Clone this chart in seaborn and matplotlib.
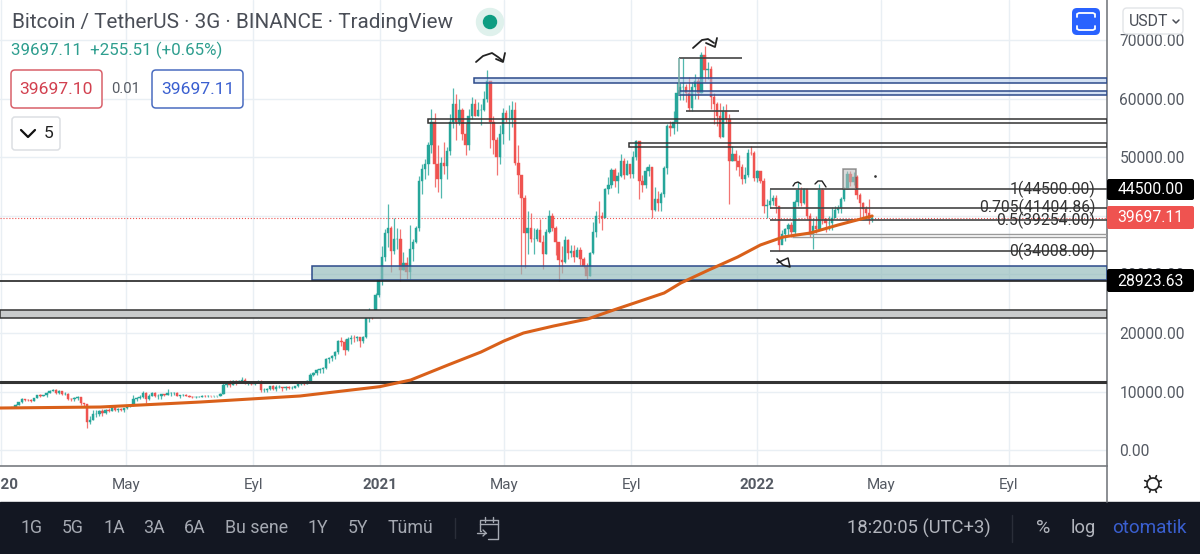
import numpy as np
import pandas as pd
import matplotlib
matplotlib.use("Agg")
import matplotlib.pyplot as plt
import matplotlib.dates as mdates
from matplotlib.patches import Rectangle, FancyBboxPatch, Circle
import seaborn as sns

# 3 day candles
closes_2020 = [
    7340, 7760, 8150, 8720, 8650, 8620, 8400, 8900, 9380, 9320,
    9340, 9800, 10150, 10260, 9700, 10180, 9600, 9660, 8790, 8710,
    8900, 9060, 8040, 7880, 4800, 5200, 6190, 6190, 6640, 6410,
    6800, 6770, 7300, 6870, 7100, 6850, 7130, 7500, 7700, 8800,
    8900, 9000, 9800, 8750, 9300, 9700, 9170, 9180, 9570, 9430,
    9700, 9700, 9700, 9300, 9400, 9400, 9300, 9150, 9000, 9100,
    9130, 9280, 9230, 9240, 9170, 9200, 9240, 9550, 11050, 11300,
    11200, 11800, 11600, 11800, 12000, 11500, 11700, 11300, 11600, 11700,
    10200, 10300, 10400, 10900, 10400, 10700, 10800, 10600, 10800, 10600,
    10680, 10900, 11300, 11500, 11350, 11800, 12900, 13100, 13700, 13800,
    14100, 15500, 15700, 16000, 16700, 18600, 18400, 17100, 19000, 19200,
    19100, 19300, 18700, 19300, 22800, 23500, 23200, 26500, 29000,
]
highs_2020 = [
    7450, 7800, 8200, 8880, 8750, 8780, 8700, 8960, 9450, 9550,
    9500, 9900, 10200, 10500, 10390, 10290, 10180, 9900, 9700, 8990,
    9000, 9200, 9150, 8100, 7950, 5900, 6900, 6900, 6780, 6950,
    6950, 7150, 7450, 7400, 7250, 7200, 7250, 7780, 7800, 9450,
    9080, 9400, 10050, 9900, 9570, 9950, 9850, 9570, 9600, 9650,
    10400, 9850, 9990, 9980, 9500, 9550, 9600, 9500, 9200, 9200,
    9280, 9340, 9450, 9350, 9300, 9240, 9290, 9800, 11400, 11450,
    11900, 11900, 11900, 11930, 12480, 12250, 11800, 11650, 11700, 12050,
    12000, 10650, 10580, 10950, 11150, 11100, 11180, 10750, 10950, 10900,
    10900, 11000, 11450, 11700, 11750, 11900, 13200, 13350, 13900, 14100,
    14200, 15800, 15950, 16200, 16900, 18800, 19400, 18900, 19300, 19700,
    19700, 19500, 19300, 19500, 23700, 24300, 24000, 26800, 29300,
]
lows_2020 = [
    7150, 7300, 7670, 8130, 8480, 8400, 8300, 8350, 8850, 9150,
    9200, 9100, 9750, 10050, 9620, 9600, 9500, 9430, 8650, 8450,
    8400, 8650, 7630, 7600, 3800, 4450, 5100, 5700, 5850, 5900,
    6150, 6580, 6700, 6750, 6500, 6750, 6600, 7100, 7400, 7600,
    8400, 8800, 8880, 8100, 8650, 9200, 9000, 8700, 8800, 9300,
    9350, 9300, 9500, 9250, 8950, 9230, 9250, 9000, 8830, 8900,
    9000, 9040, 9100, 9100, 9100, 9100, 9130, 9260, 9600, 10800,
    10800, 11100, 11100, 11500, 11650, 11380, 11150, 11100, 11150, 11450,
    10000, 9900, 10000, 10300, 10300, 10150, 10650, 10150, 10250, 10450,
    10400, 10550, 10800, 11200, 11200, 11250, 11800, 12700, 12900, 13100,
    13250, 13800, 14800, 15200, 15600, 16500, 17700, 16300, 16900, 18100,
    18500, 18600, 17650, 18300, 19200, 21900, 22400, 23000, 26100,
]
closes_2021 = [
    33000, 37000, 38000, 34000, 36000, 36000, 30800, 32000, 30400, 34300,
    35500, 38000, 46000, 48000, 48800, 52000, 56000, 48800, 46300, 49000,
    48500, 51000, 56000, 59000, 56000, 58000, 54000, 52000, 57000, 59000,
    57000, 58000, 58000, 60000, 63000, 56000, 53000, 50000, 54000, 57500,
    56500, 56500, 58000, 49000, 47000, 43000, 37000, 38000, 36000, 36000,
    37500, 35500, 33500, 37300, 40000, 38000, 35500, 32500, 32200, 35800,
    33700, 34000, 32900, 34200, 32700, 31400, 29800, 33600, 37300, 40000,
    39900, 39700, 44600, 45200, 47800, 45900, 46800, 49300, 47000, 48800,
    47100, 50000, 52700, 46000, 45200, 47700, 48300, 41000, 42800, 42200,
    43800, 48200, 55300, 54900, 56000, 61000, 62000, 62000, 60900, 58400,
    62000, 63000, 61000, 67500, 64800, 65000, 60300, 59000, 57000, 53500,
    57800, 56500, 49400, 50600, 49300, 48400, 46200, 46900, 50800, 50700,
]
highs_2021 = [
    34800, 37800, 41950, 38300, 39700, 38000, 37800, 33800, 33000, 38500,
    36000, 38300, 46800, 48900, 49700, 52600, 58300, 57500, 52000, 50000,
    52600, 51800, 57400, 61800, 60700, 60000, 58400, 55800, 58300, 60200,
    60000, 59500, 59000, 61300, 64850, 63000, 57000, 53500, 55500, 58400,
    58000, 58900, 59600, 59500, 52000, 46700, 43500, 40900, 40500, 38000,
    37900, 39500, 36800, 37700, 41000, 40500, 38200, 35600, 34800, 36600,
    36000, 35100, 35000, 34600, 34600, 33000, 32000, 33800, 39000, 40900,
    42600, 40700, 44800, 46700, 48100, 48100, 47400, 50500, 49800, 49600,
    48900, 51000, 52900, 52800, 47000, 48400, 48800, 48300, 45000, 44300,
    44100, 48500, 55700, 56100, 57800, 62900, 62600, 67000, 62500, 63700,
    62900, 64200, 63500, 68000, 69000, 66300, 65500, 61000, 59500, 59300,
    58800, 59100, 57300, 51900, 51300, 50300, 48900, 48400, 51400, 51900,
]
lows_2021 = [
    28200, 32300, 34700, 30400, 33400, 34300, 28900, 30800, 29250, 29300,
    32300, 35300, 37350, 43700, 46300, 47000, 50700, 45000, 44100, 43000,
    47050, 46300, 50300, 55000, 53000, 55500, 53000, 50400, 51300, 56600,
    57000, 57000, 55500, 57800, 59500, 51500, 50500, 47000, 48800, 52300,
    56000, 53000, 55200, 48600, 43800, 30000, 31100, 33500, 35600, 33400,
    35700, 35600, 31000, 33400, 37000, 37400, 33300, 28800, 30200, 32000,
    32700, 32900, 32100, 33000, 31600, 31100, 29300, 29700, 33500, 36400,
    38700, 37500, 39800, 43800, 44700, 45000, 43900, 46700, 46300, 46900,
    46500, 46500, 49500, 42800, 44100, 44800, 46800, 39600, 40800, 40800,
    40750, 43200, 47100, 53700, 53900, 54500, 59800, 59800, 59500, 57800,
    57800, 60000, 60000, 60900, 62800, 63400, 58300, 55700, 55400, 53300,
    53400, 55900, 42000, 49300, 47800, 46800, 45500, 45600, 46600, 50400,
]
closes_2022 = [
    46400, 47700, 46000, 41700, 41800, 42600, 43000, 41600, 35000, 36900,
    37700, 38500, 37300, 42400, 44400, 42200, 44500, 40000, 37000, 38300,
    37700, 44400, 39400, 38700, 38800, 39700, 41000, 41300, 42900, 44500,
    47100, 45800, 46600, 43500, 42200, 41100, 40400, 39441, 39697,
]
highs_2022 = [
    51000, 47900, 47500, 46400, 42800, 44500, 43500, 43500, 41100, 37500,
    38000, 38700, 39000, 42700, 45800, 45000, 44700, 44300, 40500, 39700,
    40000, 45400, 44800, 39600, 40000, 41500, 41600, 41800, 43200, 44900,
    47700, 47600, 47400, 46900, 43900, 42400, 41600, 42900, 40000,
]
lows_2022 = [
    46000, 45700, 45600, 40500, 39700, 41300, 41800, 40500, 34000, 35500,
    35700, 36700, 36300, 36700, 41700, 41700, 42000, 39500, 36400, 34300,
    37000, 37500, 38600, 37200, 37600, 37600, 39800, 40500, 40400, 42600,
    44500, 45100, 45200, 42800, 39200, 39500, 39600, 38600, 39000,
]

# orange moving average
ma_dates = ["2019-12-31", "2020-04-06", "2020-07-12", "2020-10-16", "2021-01-01", "2021-01-31",
            "2021-03-08", "2021-04-09", "2021-05-01", "2021-05-20", "2021-06-18", "2021-07-21",
            "2021-08-15", "2021-09-10", "2021-10-03", "2021-10-19", "2021-11-15", "2021-12-13",
            "2022-01-04", "2022-01-26", "2022-02-21", "2022-03-20", "2022-04-11", "2022-04-22"]
ma_values = [7200, 7370, 8225, 9250, 10840, 11980,
             14540, 16760, 18630, 20000, 21190, 22390,
             23920, 25460, 26830, 28530, 30750, 32970,
             35020, 36380, 37060, 38430, 39450, 39970]

# horizontal zones: start, low, high
blue_zones = [("2021-04-02", 62600, 63500), ("2021-10-17", 60600, 61300)]
black_zones = [("2021-02-17", 55800, 56500), ("2021-08-30", 51700, 52400)]
teal_zone = ("2020-10-28", 29000, 31400)
gray_zone = ("2019-12-31", 22500, 24000)

fib_labels = ["1(44500.00)", "0.705(41404.86)", "0.5(39254.00)", "0(34008.00)"]
fib_levels = [44500, 41404.86, 39254, 34008]

y_ticks = [0, 10000, 20000, 30000, 40000, 50000, 60000, 70000]
x_tick_dates = ["2020-01-01", "2020-05-01", "2020-09-01", "2021-01-01", "2021-05-01",
                "2021-09-01", "2022-01-01", "2022-05-01", "2022-09-01"]
x_tick_labels = ["2020", "May", "Eyl", "2021", "May", "Eyl", "2022", "May", "Eyl"]
bold_labels = ["2020", "2021", "2022"]

range_buttons = ["1G", "5G", "1A", "3A", "6A", "Bu sene", "1Y", "5Y", "Tümü"]
range_button_x = [32, 73, 114, 154, 195, 257, 318, 358, 410]

GREEN = "#26a69a"
RED = "#ef5350"
NAVY = "#2c4a8a"
DARK = "#131722"
GRID = "#e9eff4"

sns.set_theme(style="white")
plt.rcParams["font.family"] = ["Roboto", "DejaVu Sans"]

closes = np.array(closes_2020 + closes_2021 + closes_2022, dtype=float)
highs = np.array(highs_2020 + highs_2021 + highs_2022, dtype=float)
lows = np.array(lows_2020 + lows_2021 + lows_2022, dtype=float)
opens = np.concatenate([[7200.0], closes[:-1]])
dates = pd.date_range(end="2022-04-22", periods=len(closes), freq="3D")
day_nums = mdates.date2num(dates)
colors = np.where(closes >= opens, GREEN, RED)

fig = plt.figure(figsize=(12, 5.54), dpi=100, facecolor="white")
ax = fig.add_axes([0, 88 / 554, 1107 / 1200, 466 / 554])


def num(day):
    return mdates.date2num(pd.Timestamp(day))


ax.vlines(day_nums, lows, highs, colors=colors, lw=0.9, alpha=0.8, zorder=3)
ax.bar(day_nums, np.abs(closes - opens), bottom=np.minimum(opens, closes), width=2.3,
       color=colors, edgecolor=colors, linewidth=0.3, zorder=4)

ma_df = pd.DataFrame({"date": pd.to_datetime(ma_dates), "ma": ma_values})
ax.xaxis_date()
sns.lineplot(data=ma_df, x="date", y="ma", ax=ax, color="#d9601a", lw=2.2, zorder=6)

x_right = num("2022-12-05")
x_left = num("2019-12-31")


def zone(start, lo, hi, face, edge, alpha=0.5, lw=1.1):
    x0 = num(start)
    ax.add_patch(Rectangle((x0, lo), x_right - x0, hi - lo, facecolor=face, alpha=alpha,
                           edgecolor="none", zorder=5))
    ax.add_patch(Rectangle((x0, lo), x_right - x0, hi - lo, facecolor="none",
                           edgecolor=edge, lw=lw, zorder=5))


for start, lo, hi in blue_zones:
    zone(start, lo, hi, "#a9c4e8", NAVY)
for start, lo, hi in black_zones:
    zone(start, lo, hi, "white", "#333333", alpha=0.0)
zone(*teal_zone, "#8fb9b9", NAVY, alpha=0.65)
zone(*gray_zone, "#c9cbcc", "#333333", alpha=1.0)

ax.axhline(28923.63, color="#222222", lw=1.2, zorder=5)
ax.axhline(11700, color="#333333", lw=2.2, zorder=5)
ax.axhline(39697.11, color=RED, ls=":", lw=0.8, zorder=2)

ax.hlines(66900, num("2021-10-17"), num("2021-12-17"), color="#444444", lw=1.2, zorder=5)
ax.vlines(num("2021-10-17"), 60600, 66900, color="#6fa8a0", lw=1.1, zorder=5)
ax.hlines(57900, num("2021-10-24"), num("2021-12-14"), color="#444444", lw=1.2, zorder=5)
ax.hlines([36900, 36400], num("2022-02-04"), x_right, color="#9a9a9a", lw=1.0, zorder=5)

fib_start = num("2022-01-13")
for level, label in zip(fib_levels, fib_labels):
    ax.hlines(level, fib_start, x_right, color="#444444", lw=1.2, zorder=5)
    ax.text(1095 / 1107, level, label, transform=ax.get_yaxis_transform(), ha="right",
            va="center", fontsize=11.3, color="#333333", zorder=7)

ax.set_xlim(x_left, x_right)
ax.set_ylim(-2696, 76826)
ax.set_yticks(y_ticks)
ax.set_yticklabels([f"{v:.2f}" for v in y_ticks], ha="left")
ax.yaxis.tick_right()
ax.set_xticks([num(d) for d in x_tick_dates])
ax.set_xticklabels(x_tick_labels)
ax.set_xlabel("")
ax.set_ylabel("")
ax.tick_params(axis="y", length=0, pad=9, labelsize=11.2, labelcolor="#555a63")
ax.tick_params(axis="x", length=0, pad=8.5, labelsize=11, labelcolor="#555a63")
for tick in ax.get_xticklabels():
    if tick.get_text() in bold_labels:
        tick.set_fontweight("bold")
ax.grid(True, color=GRID, lw=1)
ax.set_axisbelow(True)
for side in ["top", "left"]:
    ax.spines[side].set_visible(False)
for side in ["right", "bottom"]:
    ax.spines[side].set_visible(True)
    ax.spines[side].set_color("#787b80")
    ax.spines[side].set_linewidth(1.2)

# app chrome, in pixels of the screenshot
ui = fig.add_axes([0, 0, 1, 1], zorder=10)
ui.set_xlim(0, 1200)
ui.set_ylim(554, 0)
ui.axis("off")
ui.patch.set_alpha(0)


def box(x0, y0, x1, y1, face, edge="none", lw=1.0, r=3):
    ui.add_patch(FancyBboxPatch((x0 + r, y0 + r), x1 - x0 - 2 * r, y1 - y0 - 2 * r,
                                boxstyle=f"round,pad={r},rounding_size={r}",
                                facecolor=face, edgecolor=edge, lw=lw))


def pen(xs, ys, color="#222222", lw=1.3):
    ui.plot(xs, ys, color=color, lw=lw, solid_capstyle="round", solid_joinstyle="round")


ui.text(12, 22, "Bitcoin / TetherUS · 3G · BINANCE · TradingView", fontsize=14.9, color="#4a4e57",
        va="center")
ui.add_patch(Circle((490, 22), 13.5, color="#dff1ec"))
ui.add_patch(Circle((490, 22), 6.5, color="#0f9d82"))
ui.text(11, 50, "39697.11  +255.51 (+0.65%)", fontsize=12.2, color="#2e9e8f", va="center")

box(11, 70, 102, 108, "white", "#d9606a", 1.1, 4)
ui.text(56.5, 89, "39697.10", fontsize=12.6, color="#d2404f", ha="center", va="center")
ui.text(126, 89, "0.01", fontsize=10.6, color="#555a63", ha="center", va="center")
box(152, 70, 243, 108, "white", "#4a6cc0", 1.1, 4)
ui.text(197.5, 89, "39697.11", fontsize=12.6, color="#3a5fd0", ha="center", va="center")
box(12, 117, 60, 150, "white", "#dcdfe3", 1.1, 3)
pen([21, 28, 35], [130, 137, 130], "#111111", 1.6)
ui.text(49, 133, "5", fontsize=12.6, color="#222222", ha="center", va="center")

box(1072, 8, 1100, 35, "#2962ff", r=5)
pen([1077, 1077, 1079, 1093, 1095, 1095], [17, 14, 13, 13, 14, 17], "white", 1.3)
pen([1077, 1077, 1079, 1093, 1095, 1095], [26, 29, 30, 30, 29, 26], "white", 1.3)
box(1123, 8, 1183, 34, "white", "#e2e4e7", 1.0, 4)
ui.text(1129, 21, "USDT", fontsize=11.4, color="#4a4e57", ha="left", va="center")
pen([1173, 1176, 1179], [20, 23, 20], "#4a4e57", 1.1)

box(1107, 179, 1194, 200, "black", r=2)
ui.text(1150.5, 189.5, "44500.00", fontsize=11.3, color="white", ha="center", va="center")
box(1107, 206, 1194, 229, RED, r=2)
ui.text(1150.5, 217.5, "39697.11", fontsize=11.3, color="white", ha="center", va="center")
box(1107, 269, 1194, 292, "black", r=2)
ui.text(1150.5, 281, "28923.63", fontsize=11.3, color="white", ha="center", va="center")

# hand drawn marks
pen([476, 483, 492, 498, 503], [62, 56, 53, 57, 61])
pen([505, 503, 496], [53, 62, 59])
pen([693, 702, 708, 714], [48, 40, 39, 43])
pen([717, 715, 706], [38, 47, 43])
pen([793, 795, 798, 801], [186, 183, 182, 184], lw=1.0)
pen([815, 818, 822, 826], [184, 181, 181, 187], lw=1.0)
pen([777, 788, 790, 783, 777], [263, 258, 267, 265, 259], lw=1.1)
ui.add_patch(Rectangle((843, 169), 13, 20, facecolor="#bdbdbd", alpha=0.55, edgecolor="#444444", lw=1.1))
ui.plot([875], [176], marker=".", ms=1.8, color="#333333")

# time axis divider, bottom bar
ui.plot([1107, 1107], [466, 502], color="#787b80", lw=1.2)
ui.add_patch(Rectangle((0, 502), 1200, 52, color=DARK))
for label, x in zip(range_buttons, range_button_x):
    ui.text(x, 528, label, fontsize=12.8, color="#a5a9b2", ha="center", va="center")
ui.plot([455, 455], [518, 538], color="#2a2e39", lw=1)
ui.plot([1012, 1012], [515, 542], color="#2a2e39", lw=1)
pen([481, 480, 480, 498, 498, 488], [531, 531, 520, 520, 539, 539], "#a5a9b2", 1.0)
pen([480, 498], [524, 524], "#a5a9b2", 1.0)
pen([485, 485], [517, 522], "#a5a9b2", 1.0)
pen([493, 493], [517, 522], "#a5a9b2", 1.0)
pen([477, 486], [533, 533], "#a5a9b2", 1.0)
pen([483, 486, 483], [530, 533, 536], "#a5a9b2", 1.0)
ui.text(919, 528, "18:20:05 (UTC+3)", fontsize=13.2, color="#b2b5bd", ha="center", va="center")
ui.text(1043, 528, "%", fontsize=14, color="#b2b5bd", ha="center", va="center")
ui.text(1083, 528, "log", fontsize=13.2, color="#b2b5bd", ha="center", va="center")
ui.text(1149.5, 528, "otomatik", fontsize=13.6, color="#3a5fd0", ha="center", va="center")

# settings sun
ui.add_patch(Circle((1153, 484), 6, facecolor="none", edgecolor="#222222", lw=1.2))
for angle in np.deg2rad(np.arange(0, 360, 45) + 22.5):
    pen([1153 + 7 * np.cos(angle), 1153 + 9 * np.cos(angle)],
        [484 + 7 * np.sin(angle), 484 + 9 * np.sin(angle)], "#222222", 1.2)

fig.savefig("out.png", dpi=100)
plt.close(fig)
